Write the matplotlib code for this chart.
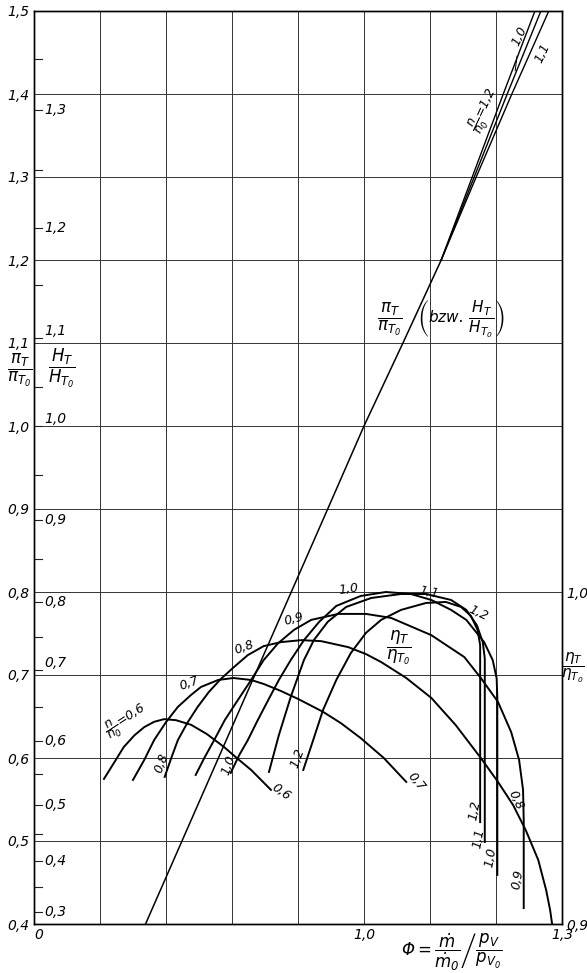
import matplotlib
matplotlib.use("Agg")
import matplotlib.pyplot as plt
import numpy as np

plt.rcParams['font.family'] = 'DejaVu Sans'
plt.rcParams['font.style'] = 'italic'
plt.rcParams['mathtext.default'] = 'it'

# axis ticks and labels
x_ticks = [0.5, 0.6, 0.7, 0.8, 0.9, 1.0, 1.1, 1.2, 1.3]
x_labels = ['0', '', '', '', '', '1,0', '', '', '1,3']
pi_ticks = [0.4, 0.5, 0.6, 0.7, 0.8, 0.9, 1.0, 1.1, 1.2, 1.3, 1.4, 1.5]
pi_labels = ['0,4', '0,5', '0,6', '0,7', '0,8', '0,9', '1,0', '1,1', '1,2', '1,3', '1,4', '1,5']
eta_ticks = [0.9, 1.0]
eta_labels = ['0,9', '1,0']

# inner H_T/H_T0 scale (value, position on pi scale)
H_vals = [0.3, 0.35, 0.4, 0.45, 0.5, 0.55, 0.6, 0.65, 0.7, 0.75, 0.8, 0.85, 0.9, 0.95,
          1.0, 1.05, 1.1, 1.15, 1.2, 1.25, 1.3, 1.35]
H_pos = [0.414, 0.445, 0.476, 0.508, 0.543, 0.581, 0.620, 0.661, 0.706, 0.746, 0.788, 0.840,
         0.887, 0.941, 1.000, 1.047, 1.106, 1.170, 1.239, 1.308, 1.381, 1.442]

# pressure ratio line pi_T/pi_T0 vs Phi
phi_pi = [0.669, 0.945, 1.0, 1.059, 1.117]
pi_line = [0.4, 0.9, 1.0, 1.1, 1.2]
pi_fan = [1.2, 1.3, 1.4, 1.5]
phi_fan_12 = [1.117, 1.164, 1.211, 1.259]
phi_fan_10 = [1.117, 1.167, 1.217, 1.268]
phi_fan_11 = [1.117, 1.170, 1.224, 1.280]

# efficiency eta_T/eta_T0 vs Phi for n/n0
phi_06 = [0.606, 0.622, 0.636, 0.652, 0.667, 0.682, 0.697, 0.715, 0.738, 0.762, 0.788, 0.809, 0.829, 0.859]
eta_06 = [0.9437, 0.9488, 0.9533, 0.9568, 0.9593, 0.9609, 0.9617, 0.9614, 0.9600, 0.9572, 0.9533, 0.9497, 0.9464, 0.9404]

phi_07 = [0.650, 0.667, 0.682, 0.700, 0.718, 0.738, 0.753, 0.779, 0.802, 0.829, 0.848, 0.874,
          0.900, 0.938, 0.965, 0.995, 1.030, 1.064]
eta_07 = [0.9434, 0.9494, 0.9554, 0.9608, 0.9654, 0.9690, 0.9714, 0.9735, 0.9741, 0.9735, 0.9723, 0.9702,
          0.9678, 0.9639, 0.9605, 0.9560, 0.9500, 0.9428]

phi_08 = [0.698, 0.708, 0.718, 0.733, 0.748, 0.765, 0.783, 0.803, 0.824, 0.848, 0.874, 0.905, 0.935,
          0.976, 1.003, 1.026, 1.064, 1.102, 1.139, 1.177, 1.203, 1.226, 1.245, 1.264, 1.276, 1.282, 1.285]
eta_08 = [0.9443, 0.9500, 0.9554, 0.9608, 0.9654, 0.9699, 0.9738, 0.9774, 0.9810, 0.9837, 0.9849, 0.9855,
          0.9852, 0.9834, 0.9813, 0.9789, 0.9741, 0.9681, 0.9599, 0.9500, 0.9428, 0.9358, 0.9283, 0.9193,
          0.9102, 0.9042, 0.9000]

phi_09 = [0.745, 0.758, 0.773, 0.789, 0.809, 0.829, 0.848, 0.870, 0.894, 0.920, 0.961, 1.003, 1.041,
          1.102, 1.152, 1.177, 1.203, 1.223, 1.235, 1.241, 1.242, 1.242]
eta_09 = [0.9449, 0.9500, 0.9554, 0.9614, 0.9675, 0.9735, 0.9795, 0.9846, 0.9886, 0.9916, 0.9934, 0.9934,
          0.9922, 0.9870, 0.9804, 0.9741, 0.9669, 0.9578, 0.9494, 0.9404, 0.9313, 0.9048]

phi_10 = [0.798, 0.811, 0.824, 0.839, 0.855, 0.871, 0.889, 0.909, 0.932, 0.958, 0.995, 1.033, 1.071,
          1.102, 1.132, 1.155, 1.182, 1.195, 1.201, 1.202, 1.202]
eta_10 = [0.9455, 0.9509, 0.9554, 0.9614, 0.9675, 0.9735, 0.9795, 0.9855, 0.9910, 0.9958, 0.9988, 1.0000,
          0.9994, 0.9976, 0.9946, 0.9916, 0.9849, 0.9795, 0.9740, 0.9680, 0.9148]

phi_11 = [0.856, 0.871, 0.889, 0.909, 0.924, 0.945, 0.973, 1.011, 1.056, 1.094, 1.132, 1.155, 1.171,
          1.180, 1.183, 1.183]
eta_11 = [0.9458, 0.9569, 0.9684, 0.9795, 0.9855, 0.9910, 0.9955, 0.9982, 0.9994, 0.9994, 0.9976, 0.9946,
          0.9900, 0.9849, 0.9800, 0.9247]

phi_12 = [0.908, 0.923, 0.938, 0.958, 0.980, 1.003, 1.026, 1.056, 1.094, 1.124, 1.147, 1.162, 1.172,
          1.176, 1.176]
eta_12 = [0.9464, 0.9554, 0.9645, 0.9735, 0.9816, 0.9877, 0.9916, 0.9946, 0.9967, 0.9970, 0.9955, 0.9928,
          0.9886, 0.9840, 0.9307]

fig = plt.figure(figsize=(5.87, 9.73), dpi=100)
fig.patch.set_facecolor('white')
ax = fig.add_axes([34 / 587, 49 / 973, 528 / 587, 913 / 973])
ax.set_xlim(0.5, 1.3)
ax.set_ylim(0.4, 1.5)
ax.set_xticks(x_ticks)
ax.set_xticklabels(x_labels, fontsize=10)
ax.set_yticks(pi_ticks)
ax.set_yticklabels(pi_labels, fontsize=10)
ax.tick_params(length=0, pad=3)
ax.grid(True, color='#333333', lw=0.7)
for s in ax.spines.values():
    s.set_linewidth(1.0)
# move the "0" label to the corner
for lbl in ax.get_xticklabels():
    if lbl.get_text() == '0':
        lbl.set_horizontalalignment('left')

ax2 = ax.twinx()
ax2.set_ylim(0.9, 0.9 + (1.5 - 0.4) / 4)
ax2.set_yticks(eta_ticks)
ax2.set_yticklabels(eta_labels, fontsize=10)
ax2.tick_params(length=0, pad=3)
for s in ax2.spines.values():
    s.set_linewidth(1.0)

# H scale ticks inside left spine
ytr = ax.get_yaxis_transform()
for h, p in zip(H_vals, H_pos):
    ax.plot([0, 0.016], [p, p], color='#222222', lw=0.8, transform=ytr, clip_on=False)
    if abs(h * 10 - round(h * 10)) < 1e-6:
        va = 'bottom' if h in (1.0, 1.1, 0.7) else 'center'
        ax.text(0.02, p, ('%.1f' % h).replace('.', ','), transform=ytr, fontsize=10,
                ha='left', va=va)

# pi line and fan
ax.plot(phi_pi, pi_line, color='black', lw=1.1)
ax.plot(phi_fan_12, pi_fan, color='black', lw=1.0)
ax.plot(phi_fan_10, pi_fan, color='black', lw=1.0)
ax.plot(phi_fan_11, pi_fan, color='black', lw=1.0)

# efficiency curves
for ph, et in [(phi_06, eta_06), (phi_07, eta_07), (phi_08, eta_08), (phi_09, eta_09),
               (phi_10, eta_10), (phi_11, eta_11), (phi_12, eta_12)]:
    ax2.plot(ph, et, color='black', lw=1.4)

# labels on efficiency curves
ax2.text(0.640, 0.9612, r'$\dfrac{n}{n_0}$=0,6', rotation=33, fontsize=9, ha='center', va='center')
peak_lbls = [('0,7', 0.735, 0.9726, 20), ('0,8', 0.818, 0.9834, 20), ('0,9', 0.894, 0.9919, 15),
             ('1,0', 0.977, 1.0008, 8), ('1,1', 1.098, 0.9999, -10), ('1,2', 1.174, 0.9937, -25)]
for t, x, y, r in peak_lbls:
    ax2.text(x, y, t, rotation=r, fontsize=9, ha='center', va='center')
low_lbls = [('0,8', 0.694, 0.9485, 70), ('1,0', 0.795, 0.9479, 70), ('1,2', 0.900, 0.9500, 70),
            ('0,6', 0.874, 0.9398, -35), ('0,7', 1.079, 0.9428, -50), ('0,8', 1.230, 0.9373, -65),
            ('0,9', 1.233, 0.9133, 80), ('1,2', 1.167, 0.9343, 80), ('1,1', 1.174, 0.9259, 80),
            ('1,0', 1.192, 0.9202, 80)]
for t, x, y, r in low_lbls:
    ax2.text(x, y, t, rotation=r, fontsize=9, ha='center', va='center')

# labels on pi line fan
ax.text(1.183, 1.380, r'$\dfrac{n}{n_0}$=1,2', rotation=65, fontsize=9, ha='center', va='center')
ax.annotate('1,0', xy=(1.229, 1.428), xytext=(1.236, 1.470), fontsize=9, rotation=65,
            ha='center', va='center', arrowprops=dict(arrowstyle='-', lw=0.7, shrinkA=4, shrinkB=0))
ax.text(1.271, 1.449, '1,1', rotation=65, fontsize=9, ha='center', va='center')

ax.text(1.038, 1.128, r'$\dfrac{\pi_T}{\pi_{T_0}}$', fontsize=12, ha='center', va='center')
ax.text(1.147, 1.130, r'$\left(bzw.\,\dfrac{H_T}{H_{T_0}}\right)$', fontsize=11, ha='center', va='center')
ax.text(1.053, 0.733, r'$\dfrac{\eta_T}{\eta_{T_0}}$', fontsize=12, ha='center', va='center')

# axis titles
fig.text(20 / 587, 1 - 370 / 973, r'$\dfrac{\pi_T}{\pi_{T_0}}$', fontsize=12, ha='center', va='center')
fig.text(62 / 587, 1 - 368 / 973, r'$\dfrac{H_T}{H_{T_0}}$', fontsize=12, ha='center', va='center')
fig.text(585 / 587, 1 - 668 / 973, r'$\dfrac{\eta_T}{\eta_{T_0}}$', fontsize=11, ha='right', va='center')
fig.text(452 / 587, 1 - 952 / 973, r'$\Phi=\dfrac{\dot{m}}{\dot{m}_0}\left/\dfrac{p_V}{p_{V_0}}\right.$',
         fontsize=12, ha='center', va='center')

fig.savefig('out.png', dpi=100, facecolor='white')
